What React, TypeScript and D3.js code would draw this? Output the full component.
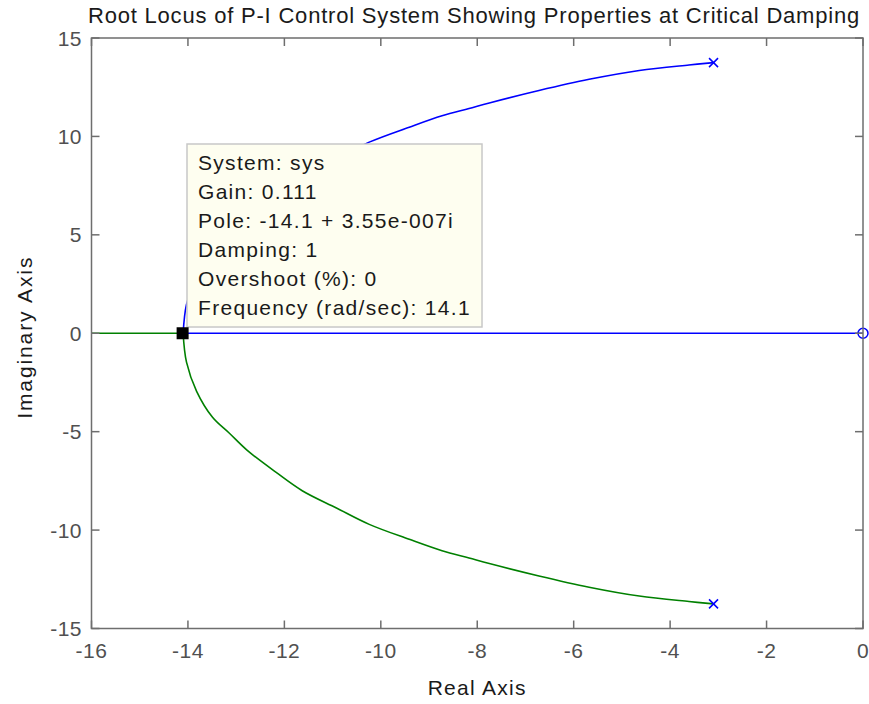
import React from "react";
import * as d3 from "d3";

const title = "Root Locus of P-I Control System Showing Properties at Critical Damping";
const xLabel = "Real Axis";
const yLabel = "Imaginary Axis";
const xTicks = [-16, -14, -12, -10, -8, -6, -4, -2, 0];
const yTicks = [-15, -10, -5, 0, 5, 10, 15];

// complex branch, upper (blue) from breakaway to pole
const upperRe = [-14.1, -14.03, -13.82, -13.49, -13.14, -12.77, -12.17, -11.63, -10.92, -10.24, -9.41, -8.73, -8.17, -7.75, -6.72, -5.68, -4.64, -3.61, -3.1];
const upperIm = [0, 1.47, 2.95, 4.27, 5.08, 5.95, 7.07, 8.0, 8.88, 9.71, 10.47, 11.05, 11.42, 11.7, 12.33, 12.9, 13.35, 13.63, 13.75];
// lower (green) branch
const lowerRe = [-14.1, -14.03, -13.82, -13.49, -13.14, -12.77, -12.17, -11.63, -10.92, -10.24, -9.41, -8.73, -8.17, -7.75, -6.72, -5.68, -4.64, -3.61, -3.1];
const lowerIm = [0, -1.47, -2.95, -4.27, -5.08, -5.95, -7.07, -8.0, -8.88, -9.71, -10.47, -11.05, -11.42, -11.7, -12.33, -12.9, -13.35, -13.63, -13.75];
// real-axis segments
const blueRealRe = [-14.1, 0];
const greenRealRe = [-16, -14.1];
// poles and zero
const polesRe = [-3.1, -3.1];
const polesIm = [13.75, -13.75];
const zerosRe = [0];
const zerosIm = [0];
// data tip
const tipPoint = [-14.1, 0];
const tipLines = [
  "System: sys",
  "Gain: 0.111",
  "Pole: -14.1 + 3.55e-007i",
  "Damping: 1",
  "Overshoot (%): 0",
  "Frequency (rad/sec): 14.1",
];

const BLUE = "#0000ff";
const GREEN = "#008000";
const AXIS = "#6e6e6e";
const FONT = "'Liberation Sans', Arial, sans-serif";

export default function App() {
  const x = d3.scaleLinear().domain([-16, 0]).range([91.5, 863]);
  const y = d3.scaleLinear().domain([-15, 15]).range([628.5, 38]);
  const line = d3.line<[number, number]>().x((d) => x(d[0])).y((d) => y(d[1]));
  const curve = d3.line<[number, number]>().x((d) => x(d[0])).y((d) => y(d[1])).curve(d3.curveCatmullRom.alpha(0.5));
  const upper = upperRe.map((r, i) => [r, upperIm[i]] as [number, number]);
  const lower = lowerRe.map((r, i) => [r, lowerIm[i]] as [number, number]);
  const blueReal = blueRealRe.map((r) => [r, 0] as [number, number]);
  const greenReal = greenRealRe.map((r) => [r, 0] as [number, number]);
  const [x0, x1] = x.range();
  const [yb, yt] = y.range();
  const tl = 8;
  const tipX = 187, tipY = 144, tipW = 295, tipH = 183;

  return (
    <svg width={869} height={704} style={{ position: "absolute", left: 0, top: 0, background: "#fff" }} fontFamily={FONT}>
      <rect x={0} y={0} width={869} height={704} fill="#fff" />
      <text x={474} y={23} textAnchor="middle" fontSize={22} fill="#1a1a1a" letterSpacing={0.8}>{title}</text>

      <path d={line(greenReal)!} stroke={GREEN} strokeWidth={1.6} fill="none" />
      <path d={curve(lower)!} stroke={GREEN} strokeWidth={1.6} fill="none" />
      <path d={line(blueReal)!} stroke={BLUE} strokeWidth={1.6} fill="none" />
      <path d={curve(upper)!} stroke={BLUE} strokeWidth={1.6} fill="none" />

      {polesRe.map((r, i) => (
        <g key={"p" + i} stroke={BLUE} strokeWidth={1.5}>
          <line x1={x(r) - 4.5} y1={y(polesIm[i]) - 4.5} x2={x(r) + 4.5} y2={y(polesIm[i]) + 4.5} />
          <line x1={x(r) - 4.5} y1={y(polesIm[i]) + 4.5} x2={x(r) + 4.5} y2={y(polesIm[i]) - 4.5} />
        </g>
      ))}
      {zerosRe.map((r, i) => (
        <circle key={"z" + i} cx={x(r)} cy={y(zerosIm[i])} r={5} stroke={BLUE} strokeWidth={1.5} fill="none" />
      ))}

      {/* axes box */}
      <rect x={x0} y={yt} width={x1 - x0} height={yb - yt} fill="none" stroke={AXIS} strokeWidth={1.5} />
      {xTicks.map((t) => (
        <g key={"xt" + t}>
          <line x1={x(t)} x2={x(t)} y1={yb} y2={yb - tl} stroke={AXIS} strokeWidth={1.5} />
          <line x1={x(t)} x2={x(t)} y1={yt} y2={yt + tl} stroke={AXIS} strokeWidth={1.5} />
          <text x={x(t)} y={658} textAnchor="middle" fontSize={21} fill="#505050" letterSpacing={0.5}>{t}</text>
        </g>
      ))}
      {yTicks.map((t) => (
        <g key={"yt" + t}>
          <line x1={x0} x2={x0 + tl} y1={y(t)} y2={y(t)} stroke={AXIS} strokeWidth={1.5} />
          <line x1={x1} x2={x1 - tl} y1={y(t)} y2={y(t)} stroke={AXIS} strokeWidth={1.5} />
          <text x={82} y={y(t) + 7.5} textAnchor="end" fontSize={21} fill="#505050" letterSpacing={0.5}>{t}</text>
        </g>
      ))}
      <text x={(x0 + x1) / 2} y={695} textAnchor="middle" fontSize={21} fill="#1a1a1a" letterSpacing={1.3}>{xLabel}</text>
      <text transform={`translate(32, ${(yb + yt) / 2 + 4}) rotate(-90)`} textAnchor="middle" fontSize={21} fill="#1a1a1a" letterSpacing={1.9}>{yLabel}</text>

      {/* data tip */}
      <rect x={tipX} y={tipY} width={tipW} height={tipH} fill="#fefef0" stroke="#c8c8c8" strokeWidth={1.5} />
      {tipLines.map((s, i) => (
        <text key={"tl" + i} x={198} y={170 + i * 29} fontSize={21} fill="#1a1a1a" letterSpacing={1.3}>{s}</text>
      ))}
      <rect x={x(tipPoint[0]) - 6.5} y={y(tipPoint[1]) - 6} width={12} height={12} fill="#000" />
    </svg>
  );
}
